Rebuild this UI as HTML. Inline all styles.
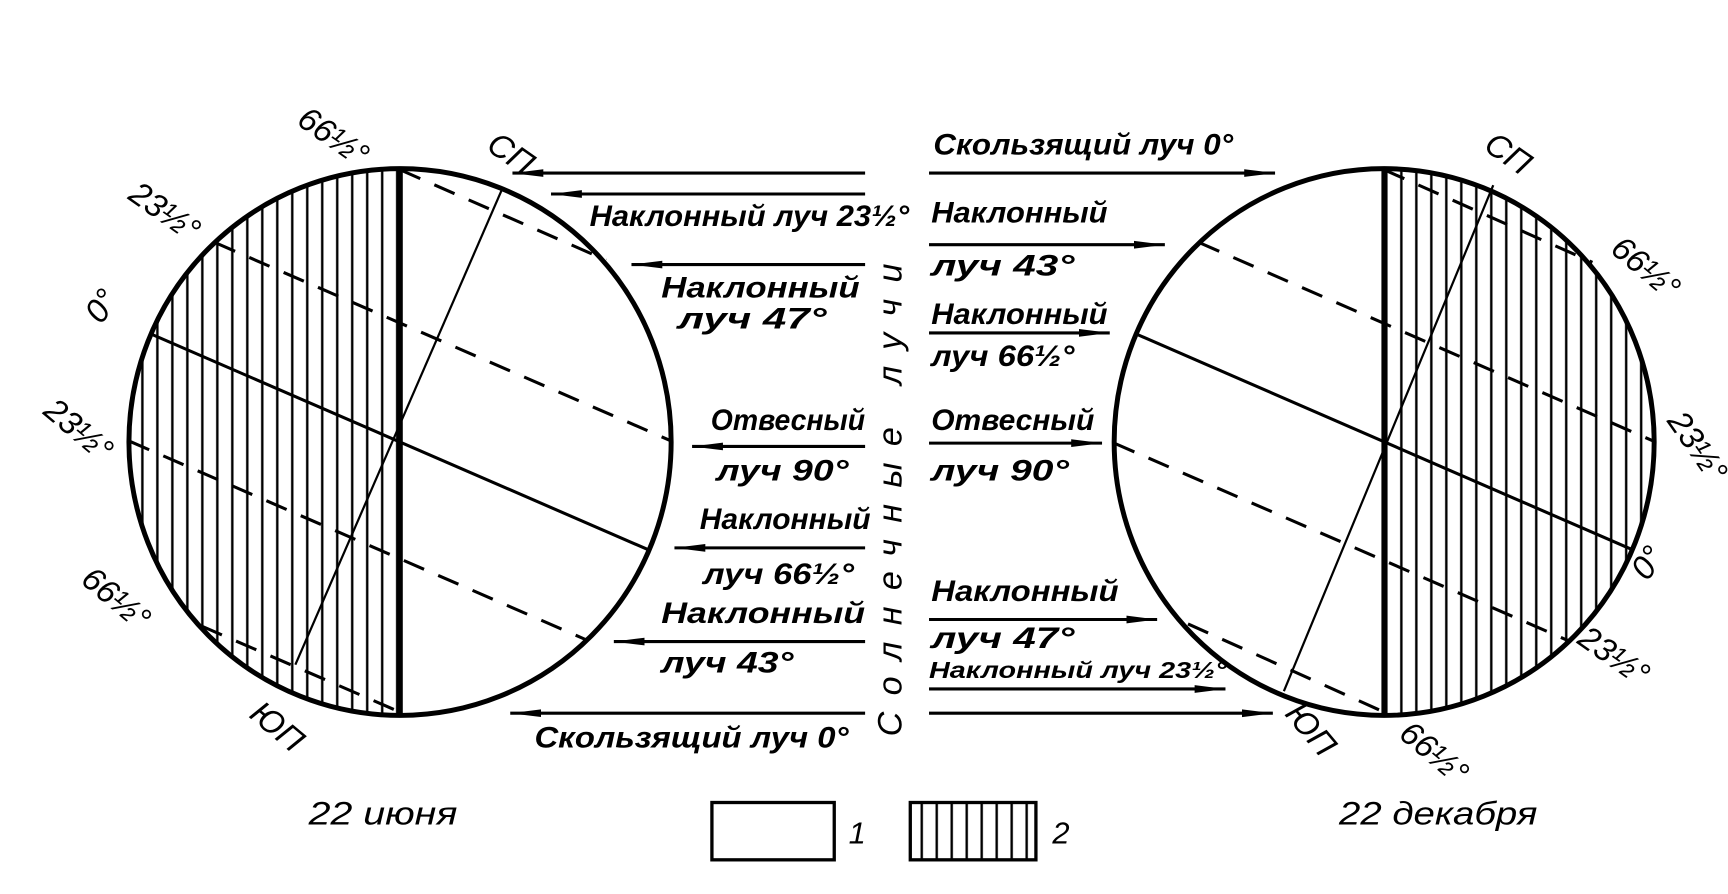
<!DOCTYPE html>
<html><head><meta charset="utf-8"><style>
html,body{margin:0;padding:0;background:#fff;}
svg{display:block}
text{font-family:"Liberation Sans",sans-serif;font-style:italic;fill:#000;}
.b{font-weight:bold;}
</style></head><body>
<svg width="1728" height="894" viewBox="0 0 1568 811" preserveAspectRatio="none" xmlns="http://www.w3.org/2000/svg">
<defs>
<pattern id="hl" x="0" y="0" width="13.6" height="10" patternUnits="userSpaceOnUse">
<line x1="6.8" y1="0" x2="6.8" y2="10" stroke="#000" stroke-width="2.2"/>
</pattern>
<clipPath id="cl"><ellipse cx="363" cy="401" rx="246" ry="248"/></clipPath>
<clipPath id="cr"><ellipse cx="1256" cy="401" rx="245" ry="248"/></clipPath>
<marker id="ah" markerWidth="30" markerHeight="10" refX="28" refY="5" orient="auto" markerUnits="userSpaceOnUse">
<path d="M0,1.5 L28,5 L0,8.5 Z" fill="#000"/>
</marker>
</defs>

<g clip-path="url(#cl)">
<rect x="116" y="150" width="247" height="505" fill="url(#hl)"/>
</g>
<g stroke="#000" fill="none">
<ellipse cx="363" cy="401" rx="246" ry="248" stroke-width="4.5"/>
<line x1="363" y1="153" x2="363" y2="649" stroke-width="5"/>
<line x1="137" y1="303" x2="589" y2="499" stroke-width="2.8"/>
<g stroke-width="2.8" stroke-dasharray="20 14">
<line x1="363" y1="154" x2="550" y2="236"/>
<line x1="195" y1="220" x2="609" y2="400"/>
<line x1="117" y1="400" x2="531" y2="580"/>
<line x1="183" y1="568" x2="363" y2="646"/>
</g>
<line x1="455" y1="173" x2="268" y2="603" stroke-width="2"/>
</g>

<g clip-path="url(#cr)">
<rect x="1256" y="150" width="250" height="505" fill="url(#hl)"/>
</g>
<g stroke="#000" fill="none">
<ellipse cx="1256" cy="401" rx="245" ry="248" stroke-width="4.5"/>
<line x1="1256" y1="153" x2="1256" y2="649" stroke-width="5"/>
<line x1="1031" y1="303" x2="1482" y2="499" stroke-width="2.8"/>
<g stroke-width="2.8" stroke-dasharray="20 14">
<line x1="1256" y1="154" x2="1445" y2="238"/>
<line x1="1088" y1="220" x2="1500" y2="400"/>
<line x1="1011" y1="402" x2="1425" y2="582"/>
<line x1="1078" y1="566" x2="1256" y2="646"/>
</g>
<line x1="1355" y1="168" x2="1165" y2="627" stroke-width="2"/>
</g>

<g stroke="#000" stroke-width="2.8" marker-end="url(#ah)">
<line x1="785" y1="157" x2="465" y2="157"/>
<line x1="785" y1="176" x2="500" y2="176"/>
<line x1="785" y1="240" x2="573" y2="240"/>
<line x1="785" y1="405" x2="628" y2="405"/>
<line x1="785" y1="497" x2="612" y2="497"/>
<line x1="785" y1="582" x2="557" y2="582"/>
<line x1="785" y1="647" x2="463" y2="647"/>
<line x1="843" y1="157" x2="1157" y2="157"/>
<line x1="843" y1="222" x2="1057" y2="222"/>
<line x1="843" y1="302" x2="1007" y2="302"/>
<line x1="843" y1="402" x2="1000" y2="402"/>
<line x1="843" y1="562" x2="1050" y2="562"/>
<line x1="843" y1="625" x2="1112" y2="625"/>
<line x1="843" y1="647" x2="1155" y2="647"/>
</g>

<g font-size="27" class="b">
<text class="b" x="535" y="205" textLength="290" lengthAdjust="spacingAndGlyphs">Наклонный луч 23½°</text>
<text class="b" x="600" y="270" textLength="180" lengthAdjust="spacingAndGlyphs">Наклонный</text>
<text class="b" x="615" y="298" textLength="135" lengthAdjust="spacingAndGlyphs">луч  47°</text>
<text class="b" x="645" y="390" textLength="140" lengthAdjust="spacingAndGlyphs">Отвесный</text>
<text class="b" x="650" y="436" textLength="120" lengthAdjust="spacingAndGlyphs">луч  90°</text>
<text class="b" x="635" y="480" textLength="155" lengthAdjust="spacingAndGlyphs">Наклонный</text>
<text class="b" x="638" y="530" textLength="137" lengthAdjust="spacingAndGlyphs">луч  66½°</text>
<text class="b" x="600" y="565" textLength="185" lengthAdjust="spacingAndGlyphs">Наклонный</text>
<text class="b" x="600" y="610" textLength="120" lengthAdjust="spacingAndGlyphs">луч  43°</text>
<text class="b" x="485" y="678" textLength="285" lengthAdjust="spacingAndGlyphs">Скользящий луч 0°</text>

<text class="b" x="847" y="140" textLength="272" lengthAdjust="spacingAndGlyphs">Скользящий луч 0°</text>
<text class="b" x="845" y="202" textLength="160" lengthAdjust="spacingAndGlyphs">Наклонный</text>
<text class="b" x="845" y="250" textLength="130" lengthAdjust="spacingAndGlyphs">луч   43°</text>
<text class="b" x="845" y="294" textLength="160" lengthAdjust="spacingAndGlyphs">Наклонный</text>
<text class="b" x="845" y="332" textLength="130" lengthAdjust="spacingAndGlyphs">луч 66½°</text>
<text class="b" x="845" y="390" textLength="148" lengthAdjust="spacingAndGlyphs">Отвесный</text>
<text class="b" x="845" y="436" textLength="125" lengthAdjust="spacingAndGlyphs">луч   90°</text>
<text class="b" x="845" y="545" textLength="170" lengthAdjust="spacingAndGlyphs">Наклонный</text>
<text class="b" x="845" y="588" textLength="130" lengthAdjust="spacingAndGlyphs">луч   47°</text>
<text class="b" x="843" y="615" font-size="21" textLength="270" lengthAdjust="spacingAndGlyphs">Наклонный луч   23½°</text>
</g>

<text transform="translate(818,668) rotate(-90)" font-size="31" textLength="435" lengthAdjust="spacing" letter-spacing="6">Солнечные лучи</text>

<g font-size="30">
<text transform="translate(268,112) rotate(35)">66½°</text>
<text transform="translate(440,135) rotate(35)">СП</text>
<text transform="translate(115,180) rotate(35)">23½°</text>
<text transform="translate(92,295) rotate(-55)">0°</text>
<text transform="translate(38,375) rotate(40)">23½°</text>
<text transform="translate(72,528) rotate(40)">66½°</text>
<text transform="translate(225,650) rotate(40)">ЮП</text>
<text transform="translate(1345,135) rotate(35)">СП</text>
<text transform="translate(1460,228) rotate(40)">66½°</text>
<text transform="translate(1512,382) rotate(55)">23½°</text>
<text transform="translate(1495,528) rotate(-55)">0°</text>
<text transform="translate(1430,583) rotate(35)">23½°</text>
<text transform="translate(1268,668) rotate(40)">66½°</text>
<text transform="translate(1165,648) rotate(50)">ЮП</text>
</g>

<text x="280" y="748" font-size="29" textLength="135" lengthAdjust="spacingAndGlyphs">22 июня</text>
<text x="1215" y="748" font-size="29" textLength="180" lengthAdjust="spacingAndGlyphs">22 декабря</text>
<rect x="646" y="728" width="111" height="52" fill="#fff" stroke="#000" stroke-width="3"/>
<text x="770" y="765" font-size="28">1</text>
<rect x="826" y="728" width="114" height="52" fill="url(#hl)" stroke="#000" stroke-width="3"/>
<text x="955" y="765" font-size="28">2</text>
</svg>
</body></html>
